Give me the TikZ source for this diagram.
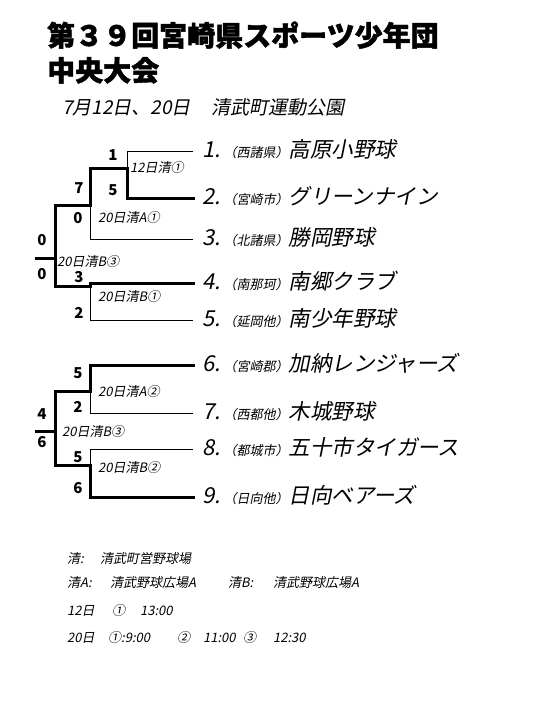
\documentclass[tikz,border=0pt]{standalone}
\usepackage{fontspec}
\newfontfamily\jp{Noto Sans CJK JP}
\newfontfamily\jpheavy[FakeBold=1.5]{Noto Sans CJK JP}
\newfontfamily\jpsl[FakeSlant=0.2]{Noto Sans CJK JP}
\newcommand\fs[1]{\fontsize{#1}{#1}\selectfont}
\begin{document}
\begin{tikzpicture}[x=1pt,y=-1pt,
  thin line/.style={line width=1pt},
  win line/.style={line width=3pt,line cap=rect,line join=miter},
  score/.style={font=\jp\bfseries\fs{15},inner sep=1pt},
  game/.style={anchor=west,inner sep=0pt,font=\jpsl\fs{13}},
  team/.style={anchor=base west,inner sep=0pt},
  foot/.style={anchor=base west,inner sep=0pt,font=\jpsl\fs{13}}]
\useasboundingbox (0,0) rectangle (540,720);
\fill[white] (0,0) rectangle (540,720);
% title
\node[anchor=base west,inner sep=0pt,font=\jpheavy\bfseries\fs{28}] (title1) at (47,46) {第３９回宮崎県スポーツ少年団};
\node[anchor=base west,inner sep=0pt,font=\jpheavy\bfseries\fs{28}] (title2) at (47,81) {中央大会};
\node[anchor=base west,inner sep=0pt,font=\jpsl\fs{19}] (date) at (62,114) {7月12日、20日\hspace{1.1em}清武町運動公園};
% coordinates
\foreach \n/\y in {1/151,2/198,3/239,4/283,5/320,6/365,7/413,8/449,9/497}{
  \coordinate (e\n) at (193,\y);
}
\coordinate (s1) at (127,151); \coordinate (s2) at (127,198);
\coordinate (s3) at (90,239); \coordinate (s4) at (90,283);
\coordinate (s5) at (90,320); \coordinate (s6) at (90,365);
\coordinate (s7) at (90,413); \coordinate (s8) at (90,449);
\coordinate (s9) at (90,497);
\coordinate (j1) at (127,168); \coordinate (o1) at (90,168);
\coordinate (j2) at (90,205);  \coordinate (o2) at (55,205);
\coordinate (j3) at (90,286);  \coordinate (o3) at (55,286);
\coordinate (f1) at (55,258);  \coordinate (g1) at (36,258);
\coordinate (j4) at (90,391);  \coordinate (o4) at (55,391);
\coordinate (j5) at (90,465);  \coordinate (o5) at (55,465);
\coordinate (f2) at (55,431);  \coordinate (g2) at (36,431);
% thin lines
\draw[thin line] (e1) -- (s1) -- (j1);
\draw[thin line] (e3) -- (s3) -- (j2);
\draw[thin line] (j3) -- (s5) -- (e5);
\draw[thin line] (j4) -- (s7) -- (e7);
\draw[thin line] (e8) -- (s8) -- (j5);
% winner lines
\draw[win line] (e2) -- (s2) -- (j1) -- (o1) -- (j2) -- (o2) -- (o3);
\draw[win line] (e4) -- (s4) -- (j3) -- (o3);
\draw[win line] (f1) -- (g1);
\draw[win line] (e6) -- (s6) -- (j4) -- (o4) -- (o5);
\draw[win line] (e9) -- (s9) -- (j5) -- (o5);
\draw[win line] (f2) -- (g2);
% scores
\node[score] (sc1) at (113,155) {1};
\node[score] (sc2) at (113,190) {5};
\node[score] (sc3) at (79,188) {7};
\node[score] (sc4) at (78,218) {0};
\node[score] (sc5) at (42,240) {0};
\node[score] (sc6) at (42,274) {0};
\node[score] (sc7) at (79,277) {3};
\node[score] (sc8) at (79,313) {2};
\node[score] (sc9) at (78,373) {5};
\node[score] (sc10) at (78,407) {2};
\node[score] (sc11) at (42,414) {4};
\node[score] (sc12) at (42,442) {6};
\node[score] (sc13) at (78,457) {5};
\node[score] (sc14) at (78,488) {6};
% game labels
\node[game] (g12a) at (130,168) {12日清①};
\node[game] (g20a1) at (98,218) {20日清A①};
\node[game] (g20b3a) at (57,262) {20日清B③};
\node[game] (g20b1) at (98,297) {20日清B①};
\node[game] (g20a2) at (98,392) {20日清A②};
\node[game] (g20b3b) at (62,432) {20日清B③};
\node[game] (g20b2) at (98,468) {20日清B②};
% teams
\newcommand\teamtext[3]{{\fs{22}#1.}\hspace{0.3em}{\fs{13}（#2）}{\fs{21.5}#3}}
\foreach \n/\a/\b in {1/西諸県/高原小野球,2/宮崎市/グリーンナイン,3/北諸県/勝岡野球,4/南那珂/南郷クラブ,5/延岡他/南少年野球,6/宮崎郡/加納レンジャーズ,7/西都他/木城野球,8/都城市/五十市タイガース,9/日向他/日向ベアーズ}{
  \node[team,font=\jpsl] (t\n) at ([xshift=9pt,yshift=-6pt]e\n) {\teamtext{\n}{\a}{\b}};
}
% footer
\node[foot] (fa) at (67,563) {清:};
\node[foot] (fb) at (100,563) {清武町営野球場};
\node[foot] (fc) at (67,587) {清A:};
\node[foot] (fd) at (110,587) {清武野球広場A};
\node[foot] (fe) at (228,587) {清B:};
\node[foot] (ff) at (273,587) {清武野球広場A};
\node[foot] (fg) at (67,615) {12日};
\node[foot] (fh) at (112,615) {①};
\node[foot] (fi) at (140,615) {13:00};
\node[foot] (fj) at (67,642) {20日};
\node[foot] (fk) at (108,642) {①:9:00};
\node[foot] (fl) at (177,642) {②};
\node[foot] (fm) at (203,642) {11:00};
\node[foot] (fn) at (243,642) {③};
\node[foot] (fo) at (273,642) {12:30};
\end{tikzpicture}
\end{document}
